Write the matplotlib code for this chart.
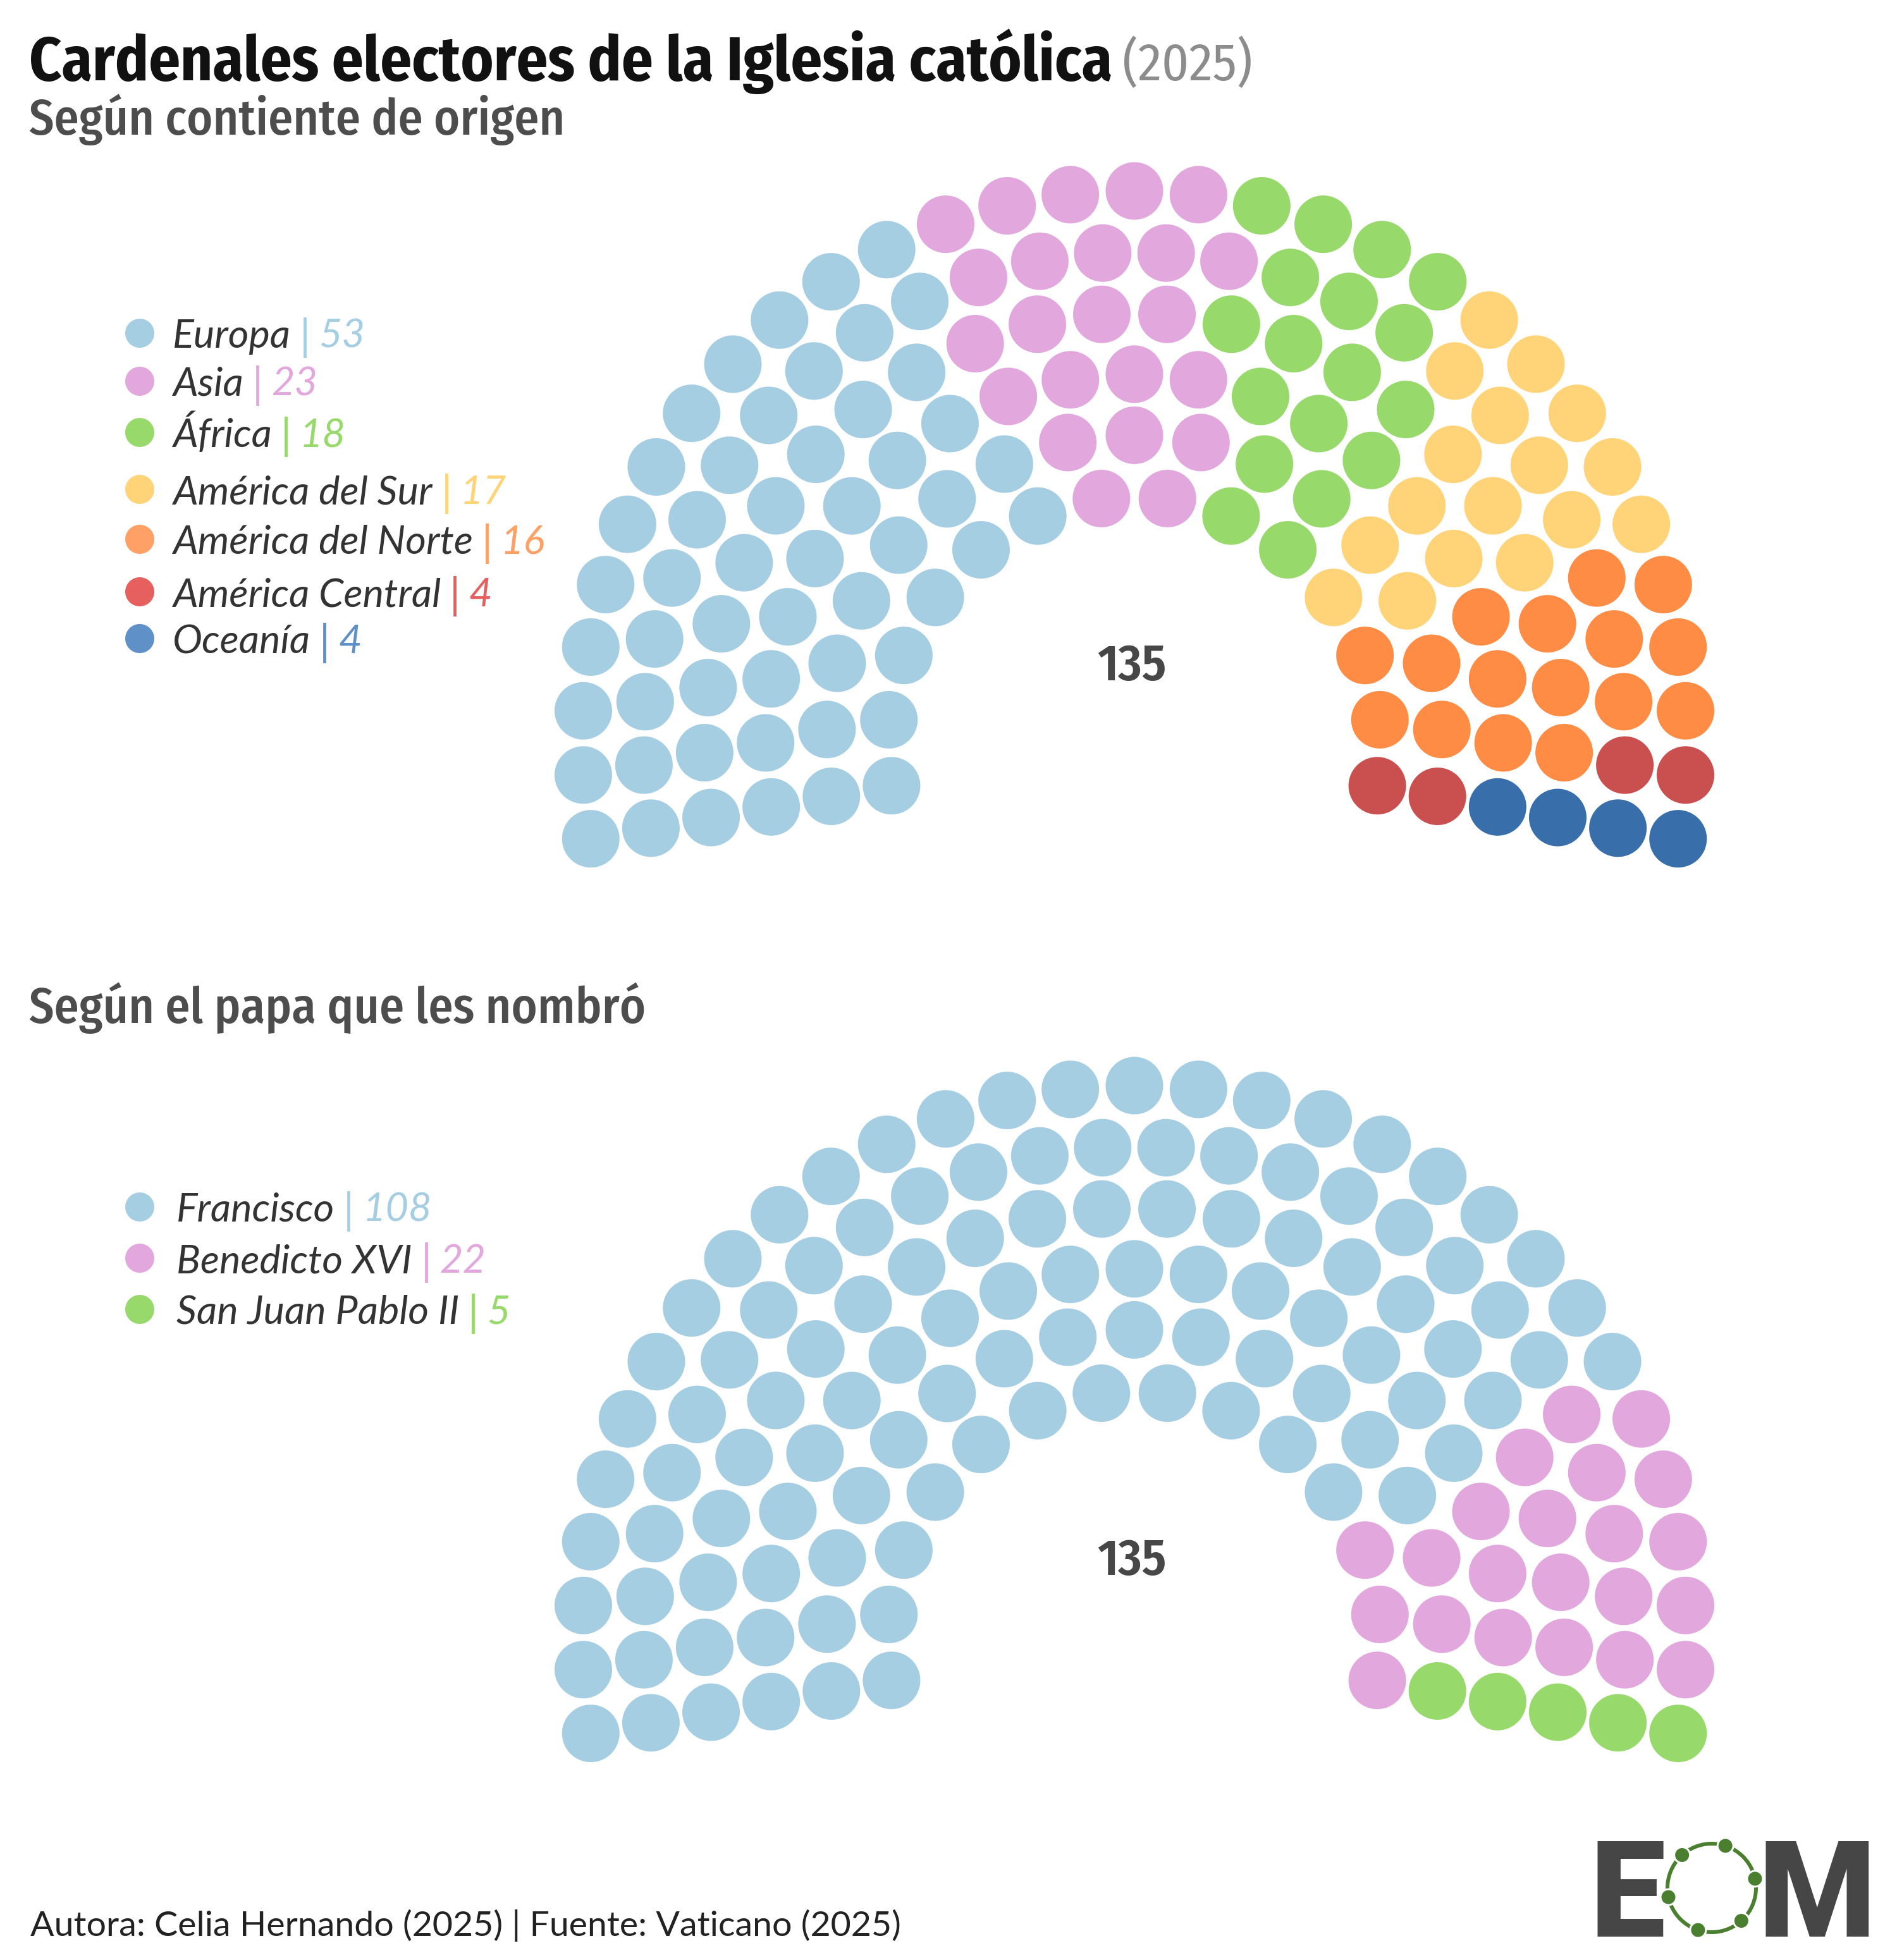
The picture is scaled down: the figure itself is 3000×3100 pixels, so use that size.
import numpy as np
import matplotlib
matplotlib.use('Agg')
import matplotlib.pyplot as plt
from matplotlib.patches import Circle
from matplotlib import font_manager

# === Datos ===
continentes = ['Europa', 'Asia', 'África', 'América del Sur', 'América del Norte',
               'América Central', 'Oceanía']
cont_valores = [53, 23, 18, 17, 16, 4, 4]
cont_colores = ['#a6cee3', '#e2a7dd', '#98d96b', '#ffd479', '#ff8c45', '#ca4f4f', '#386eaa']
cont_leyenda = ['#a6cee3', '#e2a7dd', '#98d96b', '#ffd479', '#ffa066', '#e66060', '#5f91c8']

papas = ['Francisco', 'Benedicto XVI', 'San Juan Pablo II']
papa_valores = [108, 22, 5]
papa_colores = ['#a6cee3', '#e2a7dd', '#98d96b']

titulo = 'Cardenales electores de la Iglesia católica'
anio = '(2025)'
sub1 = 'Según contiente de origen'
sub2 = 'Según el papa que les nombró'
pie = 'Autora: Celia Hernando (2025) | Fuente: Vaticano (2025)'

# === Fuentes ===
nombres = {f.name for f in font_manager.fontManager.ttflist}


def elegir(*familias):
    for f in familias:
        if f in nombres:
            return f
    return 'DejaVu Sans'


COND = elegir('Fira Sans Condensed', 'Roboto Condensed', 'DejaVu Sans')
LATO = elegir('Lato', 'Open Sans', 'DejaVu Sans')
LOGO = elegir('Roboto', 'DejaVu Sans')

PT = 72 / 100  # px -> pt


# === Escaños del hemiciclo ===
def escanos(total, filas=6, r_in=390, r_out=873, ang0=-10):
    radios = np.linspace(r_in, r_out, filas)
    cuota = total * radios / radios.sum()
    n = np.floor(cuota).astype(int)
    n[np.argsort(-(cuota - n))[:total - n.sum()]] += 1
    ang, rad, fila = [], [], []
    for i, (r, k) in enumerate(zip(radios, n)):
        a = np.linspace(180 - ang0, ang0, k)
        ang += list(a)
        rad += [r] * k
        fila += [i] * k
    ang, rad, fila = np.array(ang), np.array(rad), np.array(fila)
    orden = np.lexsort((fila, -np.round(ang, 6)))
    return ang[orden], rad[orden]


fig = plt.figure(figsize=(30, 31), dpi=100)
ax = fig.add_axes([0, 0, 1, 1])
ax.set_xlim(0, 3000)
ax.set_ylim(3100, 0)
ax.set_aspect('equal')
ax.axis('off')
r = fig.canvas.get_renderer()


def hemiciclo(cx, cy, valores, colores):
    ang, rad = escanos(sum(valores))
    col = np.repeat(colores, valores)
    for a, rr, c in zip(ang, rad, col):
        x = cx + rr * np.cos(np.radians(a))
        y = cy - rr * np.sin(np.radians(a))
        ax.add_patch(Circle((x, y), 45.5, color=c, lw=0))
    ax.text(cx - 4, cy - 99, str(sum(valores)), ha='center', va='baseline',
            family=COND, weight='semibold', fontsize=80 * PT, color='#474747')


def leyenda(x0, ys, nombres_, valores, colores):
    for y, nom, v, c in zip(ys, nombres_, valores, colores):
        ax.add_patch(Circle((221, y), 23, color=c, lw=0))
        t = ax.text(x0, y + 23, nom, va='baseline', family=LATO, style='italic',
                    fontsize=63 * PT, color='#333333')
        x = x0 + t.get_window_extent(r).width + 14
        t = ax.text(x, y + 27, '|', va='baseline', family=LATO,
                    fontsize=68 * PT, color=c)
        x += t.get_window_extent(r).width + 13
        ax.text(x, y + 23, str(v), va='baseline', family=LATO, style='italic',
                fontsize=63 * PT, color=c)


# === Títulos ===
t = ax.text(46, 127, titulo, va='baseline', family=COND, weight='bold',
            fontsize=98 * PT, color='#111111')
ax.text(46 + t.get_window_extent(r).width + 16, 127, anio, va='baseline',
        family=COND, fontsize=84 * PT, color='#8c8c8c')
ax.text(46, 213, sub1, va='baseline', family=COND, weight='medium',
        fontsize=78 * PT, color='#4d4d4d')
ax.text(46, 1618, sub2, va='baseline', family=COND, weight='medium',
        fontsize=78 * PT, color='#4d4d4d')

# === Hemiciclos ===
hemiciclo(1794, 1175, cont_valores, cont_colores)
hemiciclo(1794, 2590, papa_valores, papa_colores)

leyenda(273, [527, 603, 684, 774, 853, 936, 1010], continentes, cont_valores, cont_leyenda)
leyenda(279, [1909, 1990, 2071], papas, papa_valores, papa_colores)

# === Pie ===
ax.text(48, 3062, pie, va='baseline', family=LATO, fontsize=55.5 * PT, color='#222222')

# === Logo EOM ===
ax.text(2515, 3063, 'E', va='baseline', family=LOGO, weight='black',
        fontsize=212 * PT, color='#464646')
ax.text(2780, 3063, 'M', va='baseline', family=LOGO, weight='black',
        fontsize=212 * PT, color='#464646')
ax.add_patch(Circle((2707, 2986), 70, fill=False, lw=6 * PT, color='#4a7f30'))
for a in np.radians(12 + 60 * np.arange(6)):
    ax.add_patch(Circle((2707 + 70 * np.cos(a), 2986 - 70 * np.sin(a)), 12.5,
                        facecolor='#4a7f30', edgecolor='white', lw=3 * PT))

fig.savefig('out.png', dpi=100, facecolor='white')
